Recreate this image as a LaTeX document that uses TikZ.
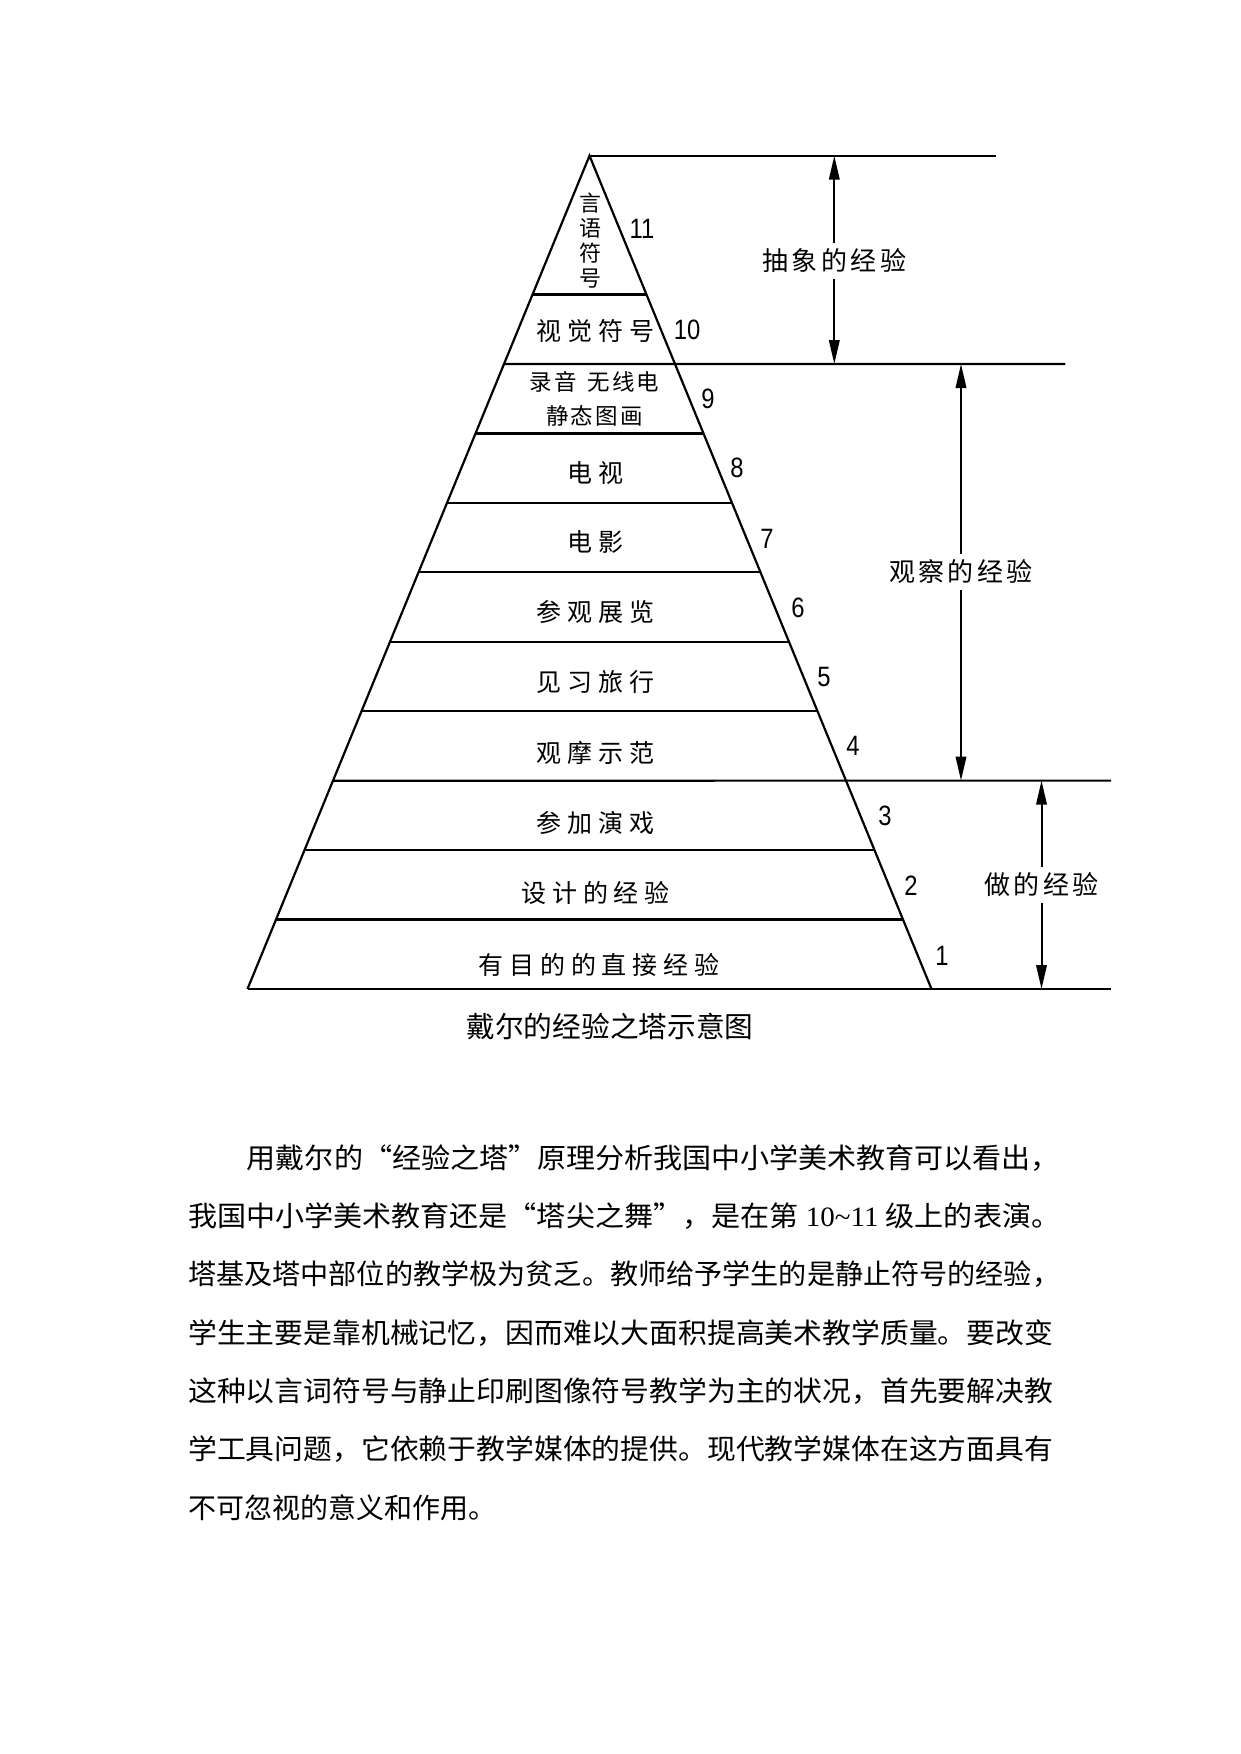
\documentclass[tikz,border=0pt]{standalone}
\usepackage{fontspec}
\usepackage{graphicx}
\usetikzlibrary{arrows.meta,calc}
\setmainfont{Liberation Sans}
\newfontfamily\cjk{Noto Sans CJK SC}
\newfontfamily\cjklab[LetterSpace=23]{Noto Sans CJK SC}
\newfontfamily\cjktight[LetterSpace=9]{Noto Sans CJK SC}
\newfontfamily\cjkside[LetterSpace=13]{Noto Sans CJK SC}
\newfontfamily\numfont[FakeStretch=0.85]{Liberation Sans}
\newfontfamily\serifnum{Liberation Serif}
\begin{document}
\begin{tikzpicture}[x=1pt,y=-1pt,
  ln/.style={line width=2.2pt, line join=miter},
  arr/.style={line width=2pt, -{Triangle[length=24pt,width=10.5pt]}},
  lab/.style={inner sep=0pt, font=\cjklab\fontsize{25pt}{28pt}\selectfont},
  tightlab/.style={inner sep=0pt, align=center, font=\cjktight\fontsize{22.5pt}{34pt}\selectfont},
  vertlab/.style={inner sep=0pt, align=center, font=\cjk\fontsize{22pt}{25pt}\selectfont},
  numlab/.style={inner sep=0pt, font=\numfont\fontsize{28pt}{30pt}\selectfont},
  sidelab/.style={inner sep=6pt, font=\cjkside\fontsize{26pt}{28pt}\selectfont},
  bodyline/.style={anchor=west, inner sep=0pt, font=\cjk\fontsize{28pt}{30pt}\selectfont},
  captext/.style={inner sep=0pt, font=\cjk\fontsize{28.7pt}{30pt}\selectfont}]
\fill[white] (0,0) rectangle (1241,1754);
\useasboundingbox (0,0) rectangle (1241,1754);

% pyramid
\coordinate (apex) at (589.5,155.7);
\coordinate (bl) at (247.5,989);
\coordinate (br) at (931.5,989);
\coordinate (topR) at (996,155.7);
\coordinate (midR) at (1065.3,364);
\coordinate (lowR) at (1111,780.6);
\coordinate (baseR) at (1111,989);

\draw[ln] (bl) -- (apex) -- (br);
\draw[ln] (apex) -- (topR);
\draw[ln] (bl) -- (baseR);
\foreach \k in {2,4,5,6,7,8,10,11}
  \draw[ln] ($(apex)!\k/12!(bl)$) -- ($(apex)!\k/12!(br)$);
\draw[ln] ($(apex)!3/12!(bl)$) -- (midR);
\draw[ln] ($(apex)!9/12!(bl)$) -- (lowR);

% level labels
\node[vertlab] (l11) at (590,240.5) {言\\语\\符\\号};
\node[lab] (l10) at (595.5,331) {视觉符号};
\node[tightlab] (l9) at (594.5,399) {录音\hspace{4pt} 无线电\\静态图画};
\node[lab] (l8) at (595.5,473) {电视};
\node[lab] (l7) at (595.5,541.5) {电影};
\node[lab] (l6) at (595.5,612) {参观展览};
\node[lab] (l5) at (595.5,682) {见习旅行};
\node[lab] (l4) at (595.5,753) {观摩示范};
\node[lab] (l3) at (595.5,823) {参加演戏};
\node[lab] (l2) at (595.5,893) {设计的经验};
\node[lab] (l1) at (599,965) {有目的的直接经验};

% numbers
\node[numlab] (n11) at (642,229) {11};
\node[numlab] (n10) at (687,330) {10};
\node[numlab] (n9) at (708,399) {9};
\node[numlab] (n8) at (737,468) {8};
\node[numlab] (n7) at (767,539) {7};
\node[numlab] (n6) at (798,608) {6};
\node[numlab] (n5) at (824,677) {5};
\node[numlab] (n4) at (853,746) {4};
\node[numlab] (n3) at (885,816) {3};
\node[numlab] (n2) at (911,886) {2};
\node[numlab] (n1) at (942,956) {1};

% side arrows
\coordinate (a1t) at (834.3,155.7);
\coordinate (a1b) at (834.3,364);
\node[sidelab] (s1) at (834.3,261) {抽象的经验};
\draw[arr] (s1) -- (a1t);
\draw[arr] (s1) -- (a1b);

\coordinate (a2t) at (961,364);
\coordinate (a2b) at (961,780.6);
\node[sidelab] (s2) at (961,572) {观察的经验};
\draw[arr] (s2) -- (a2t);
\draw[arr] (s2) -- (a2b);

\coordinate (a3t) at (1041.5,780.6);
\coordinate (a3b) at (1041.5,989);
\node[sidelab] (s3) at (1041.5,885) {做的经验};
\draw[arr] (s3) -- (a3t);
\draw[arr] (s3) -- (a3b);

% caption
\node[captext] (capt) at (610,1027) {戴尔的经验之塔示意图};

% body text
\node[bodyline] (p1) at (246.7,1158) {\resizebox{813pt}{\height}{用戴尔的“经验之塔”原理分析我国中小学美术教育可以看出，}};
\node[bodyline] (p2) at (188,1216.4) {\resizebox{872pt}{\height}{我国中小学美术教育还是“塔尖之舞”，是在第{\serifnum\ 10\textasciitilde11\ }级上的表演。}};
\node[bodyline] (p3) at (188,1274.5) {\resizebox{872pt}{\height}{塔基及塔中部位的教学极为贫乏。教师给予学生的是静止符号的经验，}};
\node[bodyline] (p4) at (188,1332.7) {\resizebox{865pt}{\height}{学生主要是靠机械记忆，因而难以大面积提高美术教学质量。要改变}};
\node[bodyline] (p5) at (188,1391) {\resizebox{865pt}{\height}{这种以言词符号与静止印刷图像符号教学为主的状况，首先要解决教}};
\node[bodyline] (p6) at (188,1449) {\resizebox{865pt}{\height}{学工具问题，它依赖于教学媒体的提供。现代教学媒体在这方面具有}};
\node[bodyline] (p7) at (188,1507.3) {不可忽视的意义和作用。};
\end{tikzpicture}
\end{document}
